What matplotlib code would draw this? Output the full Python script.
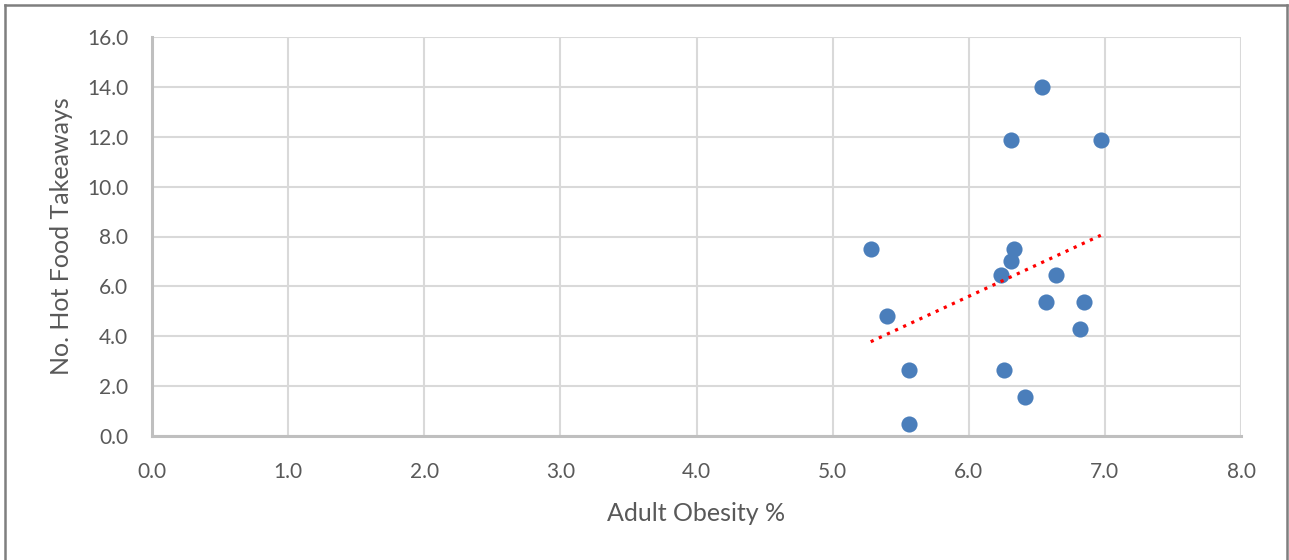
import matplotlib
matplotlib.use("Agg")
import matplotlib.pyplot as plt
import numpy as np
from matplotlib.lines import Line2D

adult_obesity = [5.28, 5.40, 5.56, 5.56, 6.24, 6.26, 6.31, 6.33, 6.41, 6.57, 6.64, 6.82, 6.85, 6.54, 6.31, 6.97]
takeaways = [7.5, 4.8, 2.65, 0.5, 6.45, 2.65, 7.0, 7.5, 1.57, 5.38, 6.45, 4.28, 5.38, 14.0, 11.85, 11.85]
x_ticks = [0, 1, 2, 3, 4, 5, 6, 7, 8]
y_ticks = [0, 2, 4, 6, 8, 10, 12, 14, 16]

plt.rcParams['font.family'] = ['Lato', 'DejaVu Sans']

W, H = 1289, 560
fig = plt.figure(figsize=(W / 100, H / 100), dpi=100)
ax = fig.add_axes([152 / W, (H - 436) / H, (1241 - 152) / W, (436 - 37) / H])

grid_c = '#d9d9d9'
text_c = '#595959'

ax.set_xlim(0, 8)
ax.set_ylim(0, 16)
ax.set_xticks(x_ticks)
ax.set_yticks(y_ticks)
ax.set_xticklabels([f"{v:.1f}" for v in x_ticks])
ax.set_yticklabels([f"{v:.1f}" for v in y_ticks])
ax.grid(True, color=grid_c, linewidth=1.5, zorder=0)
ax.set_axisbelow(True)
ax.tick_params(axis='both', length=0, labelsize=15, colors=text_c)
ax.tick_params(axis='x', pad=19)
ax.tick_params(axis='y', pad=17)
for s in ['top', 'right']:
    ax.spines[s].set_visible(False)
for s in ['left', 'bottom']:
    ax.spines[s].set_color('#bfbfbf')
    ax.spines[s].set_linewidth(2.2)

ax.scatter(adult_obesity, takeaways, s=135, color='#4a7ebb', zorder=3, linewidths=0)

x_arr = np.array(adult_obesity)
y_arr = np.array(takeaways)
m, b = np.polyfit(x_arr, y_arr, 1)
xs = np.array([x_arr.min(), x_arr.max()])
ax.plot(xs, m * xs + b, color='#ff0000', linewidth=2.3, dashes=(1, 1.8), zorder=4)

ax.set_xlabel("Adult Obesity %", fontsize=18, color=text_c, labelpad=14)
ax.set_ylabel("No. Hot Food Takeaways", fontsize=18, color=text_c, labelpad=10)

# outer frame (cut at bottom)
fc = '#7f7f7f'
fig.add_artist(Line2D([5 / W, 5 / W], [0, 1 - 5 / H], color=fc, lw=1.8, transform=fig.transFigure))
fig.add_artist(Line2D([5 / W, 1287 / W], [1 - 5 / H, 1 - 5 / H], color=fc, lw=1.8, transform=fig.transFigure))
fig.add_artist(Line2D([1287 / W, 1287 / W], [0, 1 - 5 / H], color=fc, lw=1.8, transform=fig.transFigure))

fig.savefig("out.png", dpi=100)
